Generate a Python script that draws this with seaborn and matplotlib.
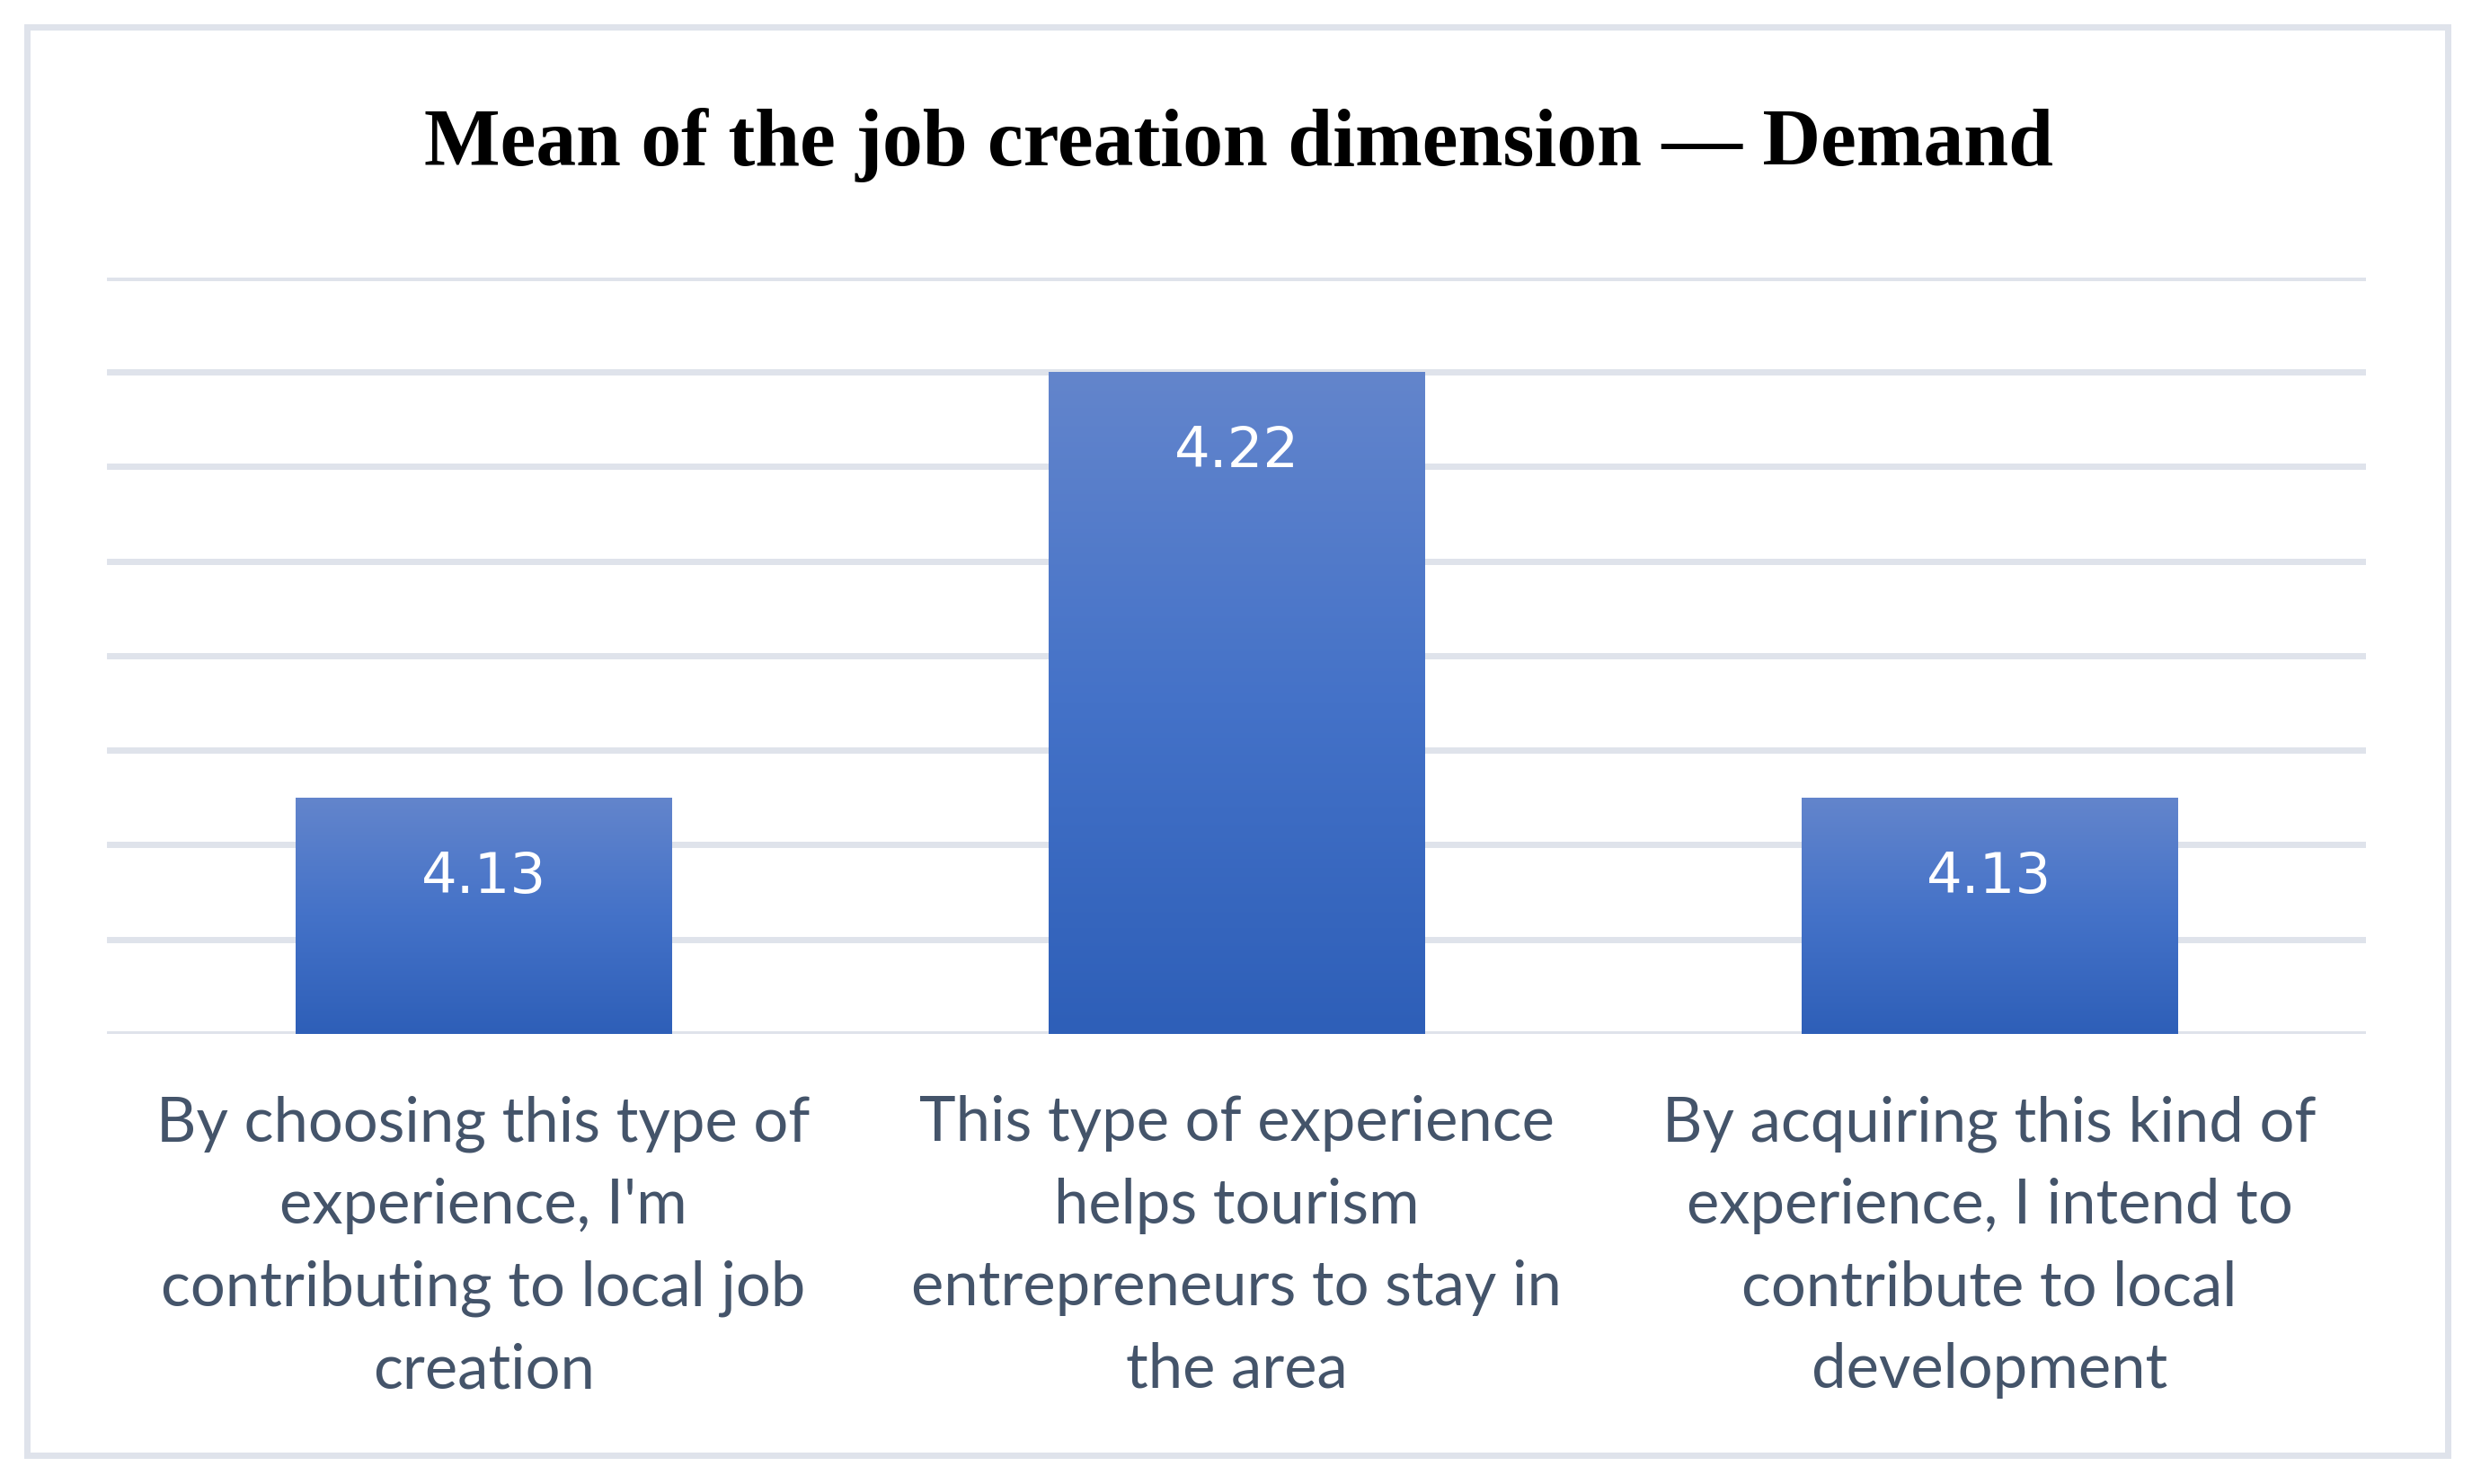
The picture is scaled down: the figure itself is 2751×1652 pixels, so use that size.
import numpy as np
import pandas as pd
import seaborn as sns
import matplotlib.pyplot as plt
from matplotlib.patches import Rectangle
from matplotlib.colors import LinearSegmentedColormap

# data
items = [
    "By choosing this type of\nexperience, I'm\ncontributing to local job\ncreation",
    "This type of experience\nhelps tourism\nentrepreneurs to stay in\nthe area",
    "By acquiring this kind of\nexperience, I intend to\ncontribute to local\ndevelopment",
]
means = [4.13, 4.22, 4.13]
grid_values = [4.08, 4.10, 4.12, 4.14, 4.16, 4.18, 4.20, 4.22, 4.24]
title = "Mean of the job creation dimension \u2014 Demand"

sns.set_style("white")
plt.rcParams['font.family'] = ['Lato', 'DejaVu Sans']

df = pd.DataFrame({"item": items, "mean": means})

fig = plt.figure(figsize=(27.51, 16.52), dpi=100)
ax = fig.add_axes([0.0433, 0.3033, 0.9138, 0.5097])

sns.barplot(data=df, x="item", y="mean", width=0.5, color="#4472C4",
            ax=ax, zorder=3)

ax.set_ylim(grid_values[0], grid_values[-1])
ax.set_xlim(-0.5, len(items) - 0.5)
ax.set_yticks(grid_values)
ax.set_yticklabels([])
ax.tick_params(axis="y", length=0)
ax.yaxis.grid(True, color="#DFE3EB", linewidth=5)
ax.xaxis.grid(False)
ax.set_axisbelow(True)
for s in ax.spines.values():
    s.set_visible(False)
ax.set_xlabel("")
ax.set_ylabel("")

ax.set_xticks(range(len(items)))
ax.set_xticklabels(items, fontsize=49.5, color="#44546A", linespacing=1.56)
ax.tick_params(axis="x", length=0, pad=49)

# vertical gradient fill like the Excel bars
cmap = LinearSegmentedColormap.from_list("bars", ["#2E5FB8", "#4472C8", "#6385CC"])
ylo = ax.get_ylim()[0]
grad = np.linspace(0, 1, 256).reshape(-1, 1)
for patch, v in zip(ax.patches, means):
    bx, bw = patch.get_x(), patch.get_width()
    top = patch.get_y() + patch.get_height()
    im = ax.imshow(grad, cmap=cmap, origin="lower", aspect="auto",
                   extent=[bx, bx + bw, ylo, top], zorder=3.5)
    im.set_clip_path(patch)
    patch.set_edgecolor("none")
    ax.annotate(f"{v:.2f}", xy=(bx + bw / 2, top), xytext=(0, -64),
                textcoords="offset points", ha="center", va="center",
                color="white", fontsize=45, family="DejaVu Sans", zorder=5)

ax.set_ylim(grid_values[0], grid_values[-1])
ax.set_xlim(-0.5, len(items) - 0.5)

fig.text(0.501, 0.902, title, ha="center", va="center", fontsize=64.5,
         fontweight="bold", family="Liberation Serif", color="black")

fig.patches.append(Rectangle((30 / 2751, 32 / 1652), 2694 / 2751, 1590 / 1652,
                             transform=fig.transFigure, fill=False,
                             edgecolor="#DFE3EB", linewidth=5))

fig.savefig("out.png", dpi=100)
